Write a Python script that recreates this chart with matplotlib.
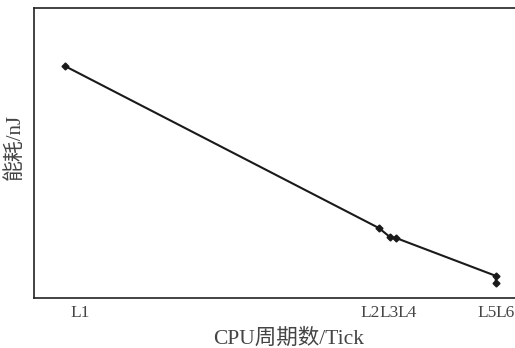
import matplotlib
matplotlib.use("Agg")
import matplotlib.pyplot as plt

plt.rcParams['font.family'] = ['Liberation Serif', 'Noto Sans CJK SC']

levels = ["L1", "L2", "L3", "L4", "L5", "L6"]
cycles = [64, 717, 740, 752, 960, 960]
energy = [80.0, 24.1, 21.0, 20.7, 7.6, 5.2]
tick_pos = [96, 698, 738, 775, 942, 979]

fig = plt.figure(figsize=(5.15, 3.48), dpi=100)
ax = fig.add_axes([0.066, 0.144, 0.934, 0.833])
ax.plot(cycles, energy, color='#1a1a1a', lw=1.5, marker='D', markersize=3.5,
        markerfacecolor='#1a1a1a', markeredgecolor='#1a1a1a')
ax.set_xlim(0, 1000)
ax.set_ylim(0, 100)
ax.set_xticks(tick_pos, levels)
ax.set_yticks([])
ax.tick_params(axis='x', length=0, pad=5, labelsize=12.5, colors='#444444')
ax.spines['right'].set_visible(False)
for s in ['left', 'top', 'bottom']:
    ax.spines[s].set_linewidth(1.2)
    ax.spines[s].set_color('#222222')
ax.set_xlabel("CPU周期数/Tick", fontsize=15.5, color='#444444')
ax.xaxis.set_label_coords(0.53, -0.105)
ax.set_ylabel("能耗/nJ", fontsize=15, color='#444444')
ax.yaxis.set_label_coords(-0.02, 0.52)
fig.savefig("out.png", dpi=100)
